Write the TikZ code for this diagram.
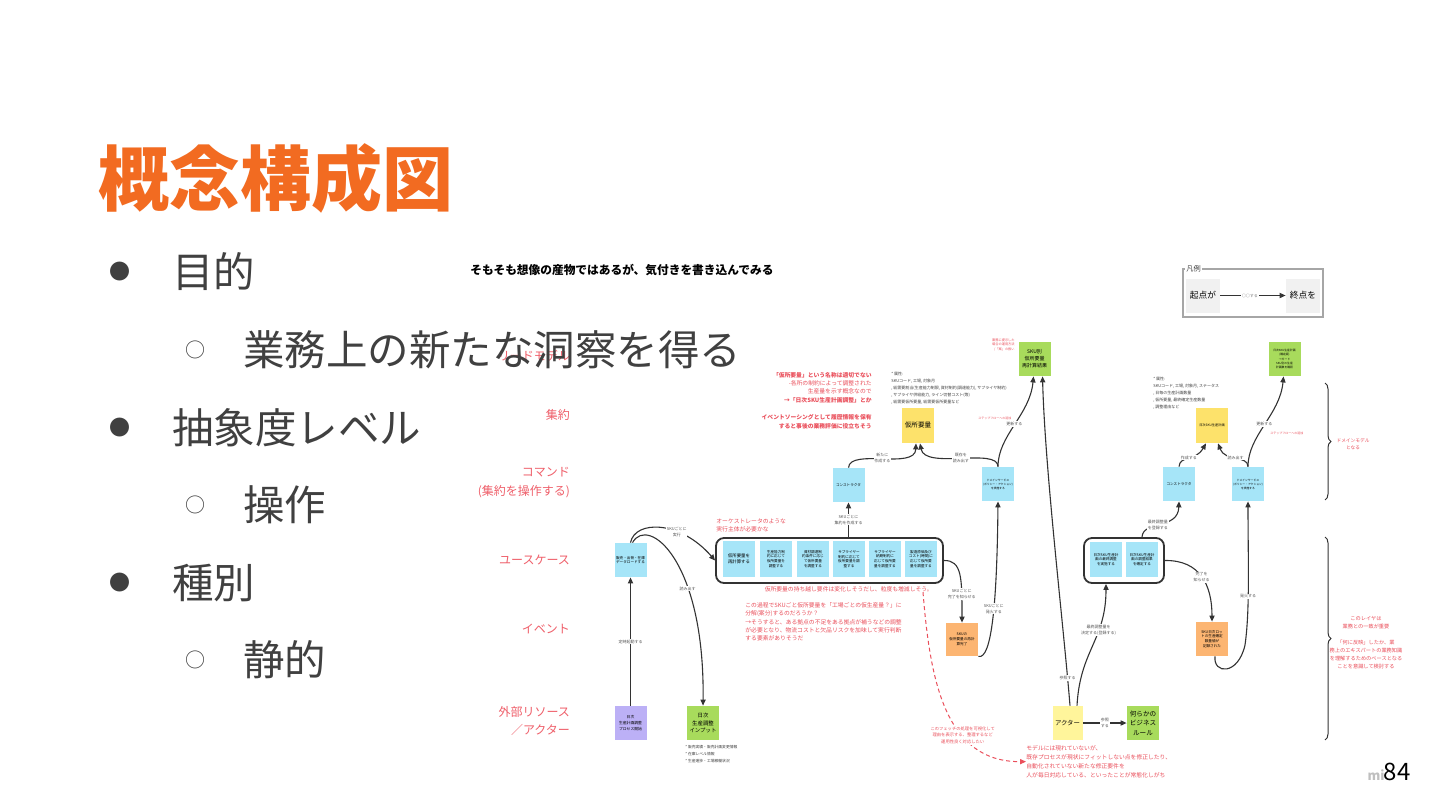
\documentclass[tikz,border=0pt]{standalone}
\usepackage{fontspec}
\setmainfont{Noto Sans CJK JP}
\usepackage{xcolor}
\usepackage{tikz}
\usetikzlibrary{arrows.meta,decorations.pathreplacing}
\definecolor{titleorange}{HTML}{F26B21}
\definecolor{bodygray}{HTML}{404040}
\definecolor{notered}{HTML}{EA4F5B}
\definecolor{rowpink}{HTML}{EF5F6A}
\definecolor{stickycyan}{HTML}{A6E5F8}
\definecolor{stickyyellow}{HTML}{FDE26B}
\definecolor{actoryellow}{HTML}{FFF59B}
\definecolor{stickygreen}{HTML}{A8DB5C}
\definecolor{stickyorange}{HTML}{FCB572}
\definecolor{stickypurple}{HTML}{BCB0F6}
\definecolor{legendbg}{HTML}{F1F1F1}
\definecolor{linegray}{HTML}{333333}
\definecolor{labelgray}{HTML}{555555}

\begin{document}
\begin{tikzpicture}[x=0.5pt, y=-0.5pt,
  sticky/.style={rectangle, minimum width=16pt, minimum height=17pt, inner sep=0.3pt, align=center, font=\fontsize{1.8}{2.4}\selectfont},
  cyannote/.style={sticky, fill=stickycyan},
  yellownote/.style={sticky, fill=stickyyellow},
  greennote/.style={sticky, fill=stickygreen},
  orangenote/.style={sticky, fill=stickyorange},
  purplenote/.style={sticky, fill=stickypurple},
  grpbox/.style={rectangle, draw=linegray, line width=0.9pt, rounded corners=4pt, fill=white},
  flow/.style={draw=linegray, line width=0.55pt, -{Triangle[length=3pt, width=2.6pt]}},
  flowlbl/.style={fill=white, inner sep=0.4pt, align=center, text=labelgray, font=\fontsize{2}{3}\selectfont},
  rowlbl/.style={anchor=east, align=right, text=rowpink, font=\fontsize{6}{9.2}\selectfont},
  remark/.style={text=notered, inner sep=0pt, font=\fontsize{2.9}{4.1}\selectfont},
  attr/.style={text=bodygray, align=left, anchor=north west, inner sep=0pt, font=\fontsize{2}{3.5}\selectfont},
  bullettxt/.style={anchor=west, inner sep=0pt, text=bodygray, font=\fontsize{20.75}{24}\selectfont},
  dotmark/.style={anchor=center, text=bodygray, font=\fontsize{10.5}{12}\selectfont},
  ringmark/.style={anchor=center, text=bodygray, font=\fontsize{10}{12}\selectfont}
]
  \fill[white] (0,0) rectangle (1440,810);
  \useasboundingbox (0,0) rectangle (1440,810);

  % title and bullets
  \node[anchor=west, inner sep=0pt, text=titleorange, font=\fontsize{35.5}{40}\selectfont\bfseries] (title) at (98,178) {概念構成図};
  \node[rowlbl] (rowread) at (577,356) {リードモデル};
  \node[dotmark] (dot1) at (120,272) {●};
  \node[bullettxt] (goal) at (172,272) {目的};
  \node[ringmark] (ring1) at (195,350) {○};
  \node[bullettxt] (insight) at (243,350) {業務上の新たな洞察を得る};
  \node[dotmark] (dot2) at (120,428) {●};
  \node[bullettxt] (level) at (172,428) {抽象度レベル};
  \node[ringmark] (ring2) at (195,505) {○};
  \node[bullettxt] (operate) at (243,505) {操作};
  \node[dotmark] (dot3) at (120,583) {●};
  \node[bullettxt] (kind) at (172,583) {種別};
  \node[ringmark] (ring3) at (195,660) {○};
  \node[bullettxt] (static) at (243,660) {静的};

  \node[anchor=west, inner sep=0pt, font=\fontsize{5.85}{7}\selectfont\bfseries] (lead) at (470,270) {そもそも想像の産物ではあるが、気付きを書き込んでみる};

  % legend
  \draw[draw=gray!70, line width=0.6pt] (1183,269) rectangle (1323,317);
  \node[anchor=west, fill=white, inner sep=0.5pt, text=bodygray, font=\fontsize{3.6}{4}\selectfont] (legtitle) at (1185,269) {凡例};
  \node[sticky, fill=legendbg, minimum width=17pt, font=\fontsize{4.35}{5}\selectfont] (legfrom) at (1203,295.5) {起点が};
  \node[sticky, fill=legendbg, minimum width=17pt, font=\fontsize{4.35}{5}\selectfont] (legto) at (1303,295.5) {終点を};
  \draw[flow] (legfrom) -- (legto) node[flowlbl, pos=0.45, text=gray] {○○する};

  % row labels
  \node[rowlbl] (rowagg) at (577,415) {集約};
  \node[rowlbl] (rowcmd) at (577,482.5) {コマンド\\(集約を操作する)};
  \node[rowlbl] (rowuc) at (577,560) {ユースケース};
  \node[rowlbl] (rowev) at (577,629) {イベント};
  \node[rowlbl] (rowext) at (577,721) {外部リソース\\／アクター};

  % use cases
  \node[cyannote] (loaduc) at (630.5,560) {販売・出荷・在庫\\データロードする};
  \node[grpbox, minimum width=113.5pt, minimum height=22.5pt] (ucgrp) at (829.5,560.5) {};
  \node[cyannote, minimum height=18pt, font=\fontsize{2.2}{3}\selectfont] (recalc) at (739,559) {仮所要量を\\再計算する};
  \node[cyannote, minimum height=18pt] (capacity) at (776,559) {生産能力制\\約に応じて\\仮所要量を\\調整する};
  \node[cyannote, minimum height=18pt] (material) at (813,559) {資材調達制\\約条件に応じ\\て仮所要量\\を調整する};
  \node[cyannote, minimum height=18pt] (supplier) at (849,559) {サプライヤー\\制約に応じて\\仮所要量を調\\整する};
  \node[cyannote, minimum height=18pt] (leadtime) at (885,559) {サプライヤー\\納期制約に\\応じて仮所要\\量を調整する};
  \node[cyannote, minimum height=18pt] (costadj) at (921,559) {製造原価及び\\コスト(時間)に\\応じて仮所要\\量を調整する};
  \node[grpbox, minimum width=40pt, minimum height=22.5pt] (finalgrp) at (1124,560.5) {};
  \node[cyannote, minimum height=17.5pt] (finaladj) at (1106,559.5) {日次SKU生産計\\画の最終調整\\を実施する};
  \node[cyannote, minimum height=17.5pt] (finalfix) at (1142,559.5) {日次SKU生産計\\画の調整結果\\を確定する};

  % commands
  \node[cyannote, font=\fontsize{1.8}{2.4}\selectfont] (ctor1) at (848.5,485) {コンストラクタ};
  \node[cyannote, font=\fontsize{1.4}{2}\selectfont] (dsvc1) at (998,484) {ドメインサービス\\(ポリシー・アクション)\\を実施する};
  \node[cyannote, font=\fontsize{1.8}{2.4}\selectfont] (ctor2) at (1179,484) {コンストラクタ};
  \node[cyannote, font=\fontsize{1.4}{2}\selectfont] (dsvc2) at (1248,484) {ドメインサービス\\(ポリシー・アクション)\\を実施する};

  % aggregates
  \node[yellownote, minimum height=17.5pt, font=\fontsize{3.3}{4}\selectfont] (tmpreq) at (918,425.5) {仮所要量};
  \node[yellownote, minimum height=17.5pt, font=\fontsize{1.6}{2.2}\selectfont] (dailyplan) at (1212,425.5) {日次SKU生産計画};

  % read models
  \node[greennote, font=\fontsize{2.5}{3.5}\selectfont] (skuresult) at (1034.5,359) {SKU別\\仮所要量\\再計算結果};
  \node[greennote, font=\fontsize{1.4}{2.1}\selectfont] (planview) at (1284.5,359) {日次SKU生産計画\\(確定版)\\→ガード\\SKU別の生産\\計画数を確認};

  % events
  \node[orangenote, minimum height=16.5pt] (recalcdone) at (962,639.5) {SKUの\\仮所要量の再計\\算完了};
  \node[orangenote] (planfixed) at (1212,639) {SKU日次ロッ\\トの生産確定\\数量値が\\記録された};

  % external resources / actors
  \node[purplenote, font=\fontsize{1.9}{3}\selectfont] (dailystart) at (630.5,723) {日次\\生産計画調整\\プロセス開始};
  \node[greennote, font=\fontsize{2.7}{3.75}\selectfont] (dailyinput) at (703,723) {日次\\生産調整\\インプット};
  \node[sticky, fill=actoryellow, minimum width=15pt, font=\fontsize{3.2}{4}\selectfont] (actor) at (1067.5,723) {アクター};
  \node[greennote, font=\fontsize{3.3}{4.75}\selectfont] (bizrule) at (1143,723) {何らかの\\ビジネス\\ルール};

  % flows
  \draw[flow] (dailystart) -- (loaduc) node[flowlbl, pos=0.5] {定時起動する};
  \draw[flow] (loaduc.north) .. controls (635,520) and (680,520) .. (ucgrp.west) node[flowlbl, pos=0.65] {SKUごとに\\実行};
  \draw[flow] ([xshift=1pt]loaduc.north) .. controls (648,515) and (705,560) .. (dailyinput.north) node[flowlbl, pos=0.65] {読み出す};
  \draw[flow] (ctor1.south |- ucgrp.north) -- (ctor1.south) node[flowlbl, pos=0.5] {SKUごとに\\集約を作成する};
  \draw[flow] (ctor1.north) .. controls (850,448) and (915,470) .. ([xshift=-1pt]tmpreq.south) node[flowlbl, pos=0.5] {新たに\\作成する};
  \draw[flow] (dsvc1.north) .. controls (998,447) and (925,470) .. ([xshift=1pt]tmpreq.south) node[flowlbl, pos=0.5] {既存を\\読み出す};
  \draw[flow] (dsvc1.north) .. controls (998,435) and (1030,415) .. ([xshift=-0.5pt]skuresult.south) node[flowlbl, pos=0.5] {更新する};
  \draw[flow] (ucgrp.east) .. controls (962,560) and (962,578) .. (recalcdone.north) node[flowlbl, pos=0.75] {SKUごとに\\完了を知らせる};
  \draw[flow] (recalcdone.south east) .. controls (992,660) and (997,600) .. (dsvc1.south) node[flowlbl, pos=0.55] {SKUごとに\\発火する};
  \draw[flow] ([xshift=1.25pt]actor.north) .. controls (1063,620) and (1045,470) .. ([xshift=4pt]skuresult.south) node[flowlbl, pos=0.1] {参照する};
  \draw[flow] ([xshift=4.75pt]actor.north) .. controls (1080,650) and (1106,640) .. (finaladj.south |- finalgrp.south) node[flowlbl, pos=0.65] {最終調整量を\\決定する(登録する)};
  \draw[flow] (finalfix.north |- finalgrp.north) .. controls (1143,520) and (1178,530) .. (ctor2.south) node[flowlbl, pos=0.45] {最終調整量\\を登録する};
  \draw[flow] (ctor2.north) .. controls (1180,455) and (1195,462) .. ([xshift=-3pt]dailyplan.south) node[flowlbl, pos=0.5] {作成する};
  \draw[flow] (dsvc2.north) .. controls (1248,455) and (1225,462) .. ([xshift=3pt]dailyplan.south) node[flowlbl, pos=0.5] {読み出す};
  \draw[flow] (dsvc2.north) .. controls (1248,435) and (1280,415) .. ([xshift=-0.5pt]planview.south) node[flowlbl, pos=0.5] {更新する};
  \draw[flow] (finalgrp.east) .. controls (1200,560) and (1212,585) .. (planfixed.north) node[flowlbl, pos=0.5] {完了を\\知らせる};
  \draw[flow] ([xshift=1.5pt]planfixed.south) .. controls (1213,674) and (1238,676) .. (1245,645) .. controls (1250,610) and (1248,560) .. (dsvc2.south) node[flowlbl, pos=0.4] {発火する};
  \draw[flow] (actor) -- (bizrule) node[flowlbl, pos=0.5] {参照\\する};

  % remarks
  \node[remark, anchor=north east, align=right] (namenote) at (872,372) {{\bfseries 「仮所要量」という名称は適切でない}\\-各所の制約によって調整された\\生産量を示す概念なので\\{\bfseries →「日次SKU生産計画調整」とか}};
  \node[remark, anchor=north east, align=right, font=\fontsize{2.9}{4.4}\selectfont\bfseries] (esnote) at (872,414) {イベントソーシングとして履歴情報を保有\\すると事後の業務評価に役立ちそう};
  \node[attr] (tmpattr) at (891,372) {* 属性:\\SKUコード, 工場, 対象月\\, 総需要割当(生産能力制限, 資材制約(調達能力), サプライヤ制約)\\, サプライヤ供給能力, ライン切替コスト(等)\\, 総需要仮所要量, 総需要仮所要量など};
  \node[attr] (planattr) at (1153,377) {* 属性:\\SKUコード, 工場, 対象月, ステータス\\, 日毎の生産計画数量\\, 仮所要量, 最終確定生産数量\\, 調整理由など};
  \node[remark, anchor=north east, align=right, font=\fontsize{1.6}{2.3}\selectfont] (proposal) at (1015,338) {業務に提示した\\場合の運用方法\\/「案」の扱い};
  \node[remark, anchor=west, font=\fontsize{1.5}{2}\selectfont] (stepnote1) at (978,418) {ステップフローへの追加};
  \node[remark, anchor=west, font=\fontsize{1.5}{2}\selectfont] (stepnote2) at (1270,433) {ステップフローへの追加};
  \node[remark, anchor=north west, align=left] (orchnote) at (716,518) {オーケストレータのような\\実行主体が必要かな};
  \node[remark, anchor=east] (carrynote) at (933,589) {仮所要量の持ち越し要件は変化しそうだし、粒度も増減しそう。};
  \node[remark, anchor=north west, align=left, font=\fontsize{2.9}{4.2}\selectfont] (splitnote) at (745,602) {この過程でSKUごと仮所要量を「工場ごとの仮生産量？」に\\分解(案分)するのだろうか？\\→そうすると、ある拠点の不足をある拠点が補うなどの調整\\が必要となり、物流コストと欠品リスクを加味して実行判断\\する要素がありそうだ};
  \node[attr, font=\fontsize{1.9}{3.5}\selectfont] (inputattr) at (685,745) {* 販売実績・販売計画変更情報\\* 在庫レベル情報\\* 生産進捗・工場稼働状況};
  \node[remark, anchor=north west, align=left, font=\fontsize{2.9}{4.5}\selectfont] (opsnote) at (1026,745) {モデルには現れていないが、\\既存プロセスが現状にフィットしない点を修正したり、\\自動化されていない新たな修正要件を\\人が毎日対応している、といったことが常態化しがち};
  \draw[draw=notered, line width=0.5pt, dash pattern=on 2pt off 1.5pt, -{Triangle[length=3pt, width=2.6pt]}] ([xshift=-5pt]carrynote.south east) .. controls (930,680) and (945,762) .. (opsnote.west) node[remark, fill=white, inner sep=0.5pt, align=center, pos=0.65, font=\fontsize{2.15}{3.25}\selectfont] {このフェッチの処理を可視化して\\理由を表示する、整理するなど\\運用性良く対応したい};

  % braces
  \draw[linegray, line width=0.5pt, decorate, decoration={brace, amplitude=3pt}] (1325,383) -- (1325,500);
  \draw[linegray, line width=0.5pt, decorate, decoration={brace, amplitude=3pt}] (1325,537) -- (1325,740);
  \node[remark, align=center, font=\fontsize{2.35}{3.6}\selectfont] (domainnote) at (1353,444) {ドメインモデル\\となる};
  \node[remark, align=center, font=\fontsize{2.6}{4}\selectfont] (layernote) at (1366,643) {このレイヤは\\業務との一致が重要\\ \\「何に反映」したか、業\\務上のエキスパートの業務知識\\を理解するためのベースとなる\\ことを意識して検討する};

  % page number
  \node[anchor=east, inner sep=0pt, text=gray!50, font=\fontsize{6.5}{8}\selectfont\bfseries] (brand) at (1385,775) {mi};
  \node[anchor=east, inner sep=0pt, font=\fontsize{12}{14}\selectfont] (page) at (1411,772) {84};
\end{tikzpicture}
\end{document}
